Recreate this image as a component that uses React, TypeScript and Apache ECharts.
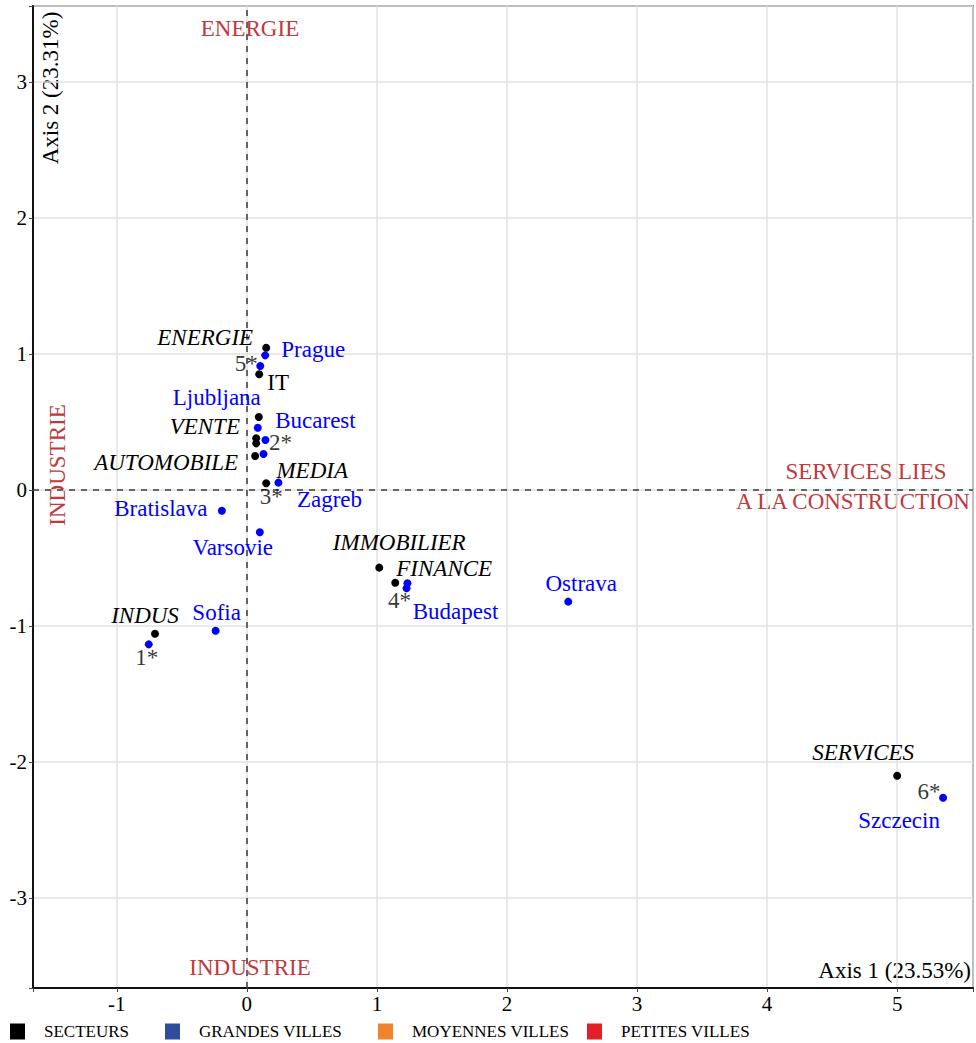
import React, { useEffect, useRef } from "react";
import * as echarts from "echarts";

const FONT = "Liberation Serif";

// SECTEURS (black points)
const sectorNames = ["ENERGIE", "IT", "VENTE", "", "", "AUTOMOBILE", "MEDIA", "IMMOBILIER", "FINANCE", "INDUS", "SERVICES"];
const sectorX = [0.149, 0.095, 0.092, 0.072, 0.072, 0.064, 0.149, 1.018, 1.141, -0.706, 5.0];
const sectorY = [1.046, 0.851, 0.537, 0.38, 0.343, 0.25, 0.049, -0.571, -0.682, -1.057, -2.101];

// GRANDES VILLES (blue points)
const cityNames = ["Prague", "", "Ljubljana", "", "Bucarest", "Zagreb", "Bratislava", "Varsovie", "Sofia", "", "Budapest", "", "Ostrava", "Szczecin"];
const cityX = [0.141, 0.103, 0.084, 0.143, 0.128, 0.243, -0.192, 0.1, -0.24, -0.754, 1.235, 1.228, 2.471, 5.353];
const cityY = [0.99, 0.912, 0.458, 0.368, 0.265, 0.054, -0.152, -0.311, -1.035, -1.135, -0.686, -0.723, -0.821, -2.263];

// numbered groups
const groupNames = ["1*", "2*", "3*", "4*", "5*", "6*"];
const groupX = [-0.754, 0.143, 0.149, 1.228, 0.103, 5.353];
const groupY = [-1.135, 0.368, 0.049, -0.723, 0.912, -2.263];

// axis ticks
const xTicks = [-1, 0, 1, 2, 3, 4, 5];
const yTicks = [-3, -2, -1, 0, 1, 2, 3];

const legendNames = ["SECTEURS", "GRANDES VILLES", "MOYENNES VILLES", "PETITES VILLES"];

// label placement (style, not data)
const sectorLabelOffsets = [[-61, -10], [19, 8], [-54, 10], [0, 0], [0, 0], [-89, 7], [46, -13], [20, -25], [49, -14], [-10, -18], [-34, -23]];
const sectorLabelUpright = [false, true, false, false, false, false, false, false, false, false, false];
const cityLabelOffsets = [[48, -6], [0, 0], [-41, -30], [0, 0], [52, -33], [51, 17], [-61, -2], [-27, 15], [1, -18], [0, 0], [48, 28], [0, 0], [13, -18], [-44, 23]];
const groupLabelOffsets = [[-2, 13], [15, 3], [5, 13], [-7, 12], [-14, -2], [-14, -6]];

const RED = "#c1393c";
const LABEL_SIZE = 23;

export default function App() {
  const ref = useRef<HTMLDivElement>(null);
  useEffect(() => {
    if (!ref.current) return;
    const chart = echarts.init(ref.current, undefined, { renderer: "svg" });

    const isTick = (v: number, ticks: number[]) => ticks.some((t) => Math.abs(t - v) < 1e-6);

    const sectorData = sectorNames.map((n, i) => ({
      value: [sectorX[i], sectorY[i]],
      name: n,
      label: {
        show: n !== "",
        formatter: n,
        position: "inside",
        offset: sectorLabelOffsets[i],
        fontStyle: sectorLabelUpright[i] ? "normal" : "italic",
        color: "#000",
        fontSize: LABEL_SIZE,
        fontFamily: FONT,
      },
    }));
    const cityData = cityNames.map((n, i) => ({
      value: [cityX[i], cityY[i]],
      name: n,
      label: {
        show: n !== "",
        formatter: n,
        position: "inside",
        offset: cityLabelOffsets[i],
        color: "#0000ff",
        fontSize: LABEL_SIZE,
        fontFamily: FONT,
      },
    }));
    const groupData = groupNames.map((n, i) => ({
      value: [groupX[i], groupY[i]],
      name: n,
      label: {
        show: true,
        formatter: n,
        position: "inside",
        offset: groupLabelOffsets[i],
        color: "#000",
        fontSize: LABEL_SIZE,
        fontFamily: FONT,
      },
    }));

    const legendColors = ["#000000", "#2f4d9c", "#f0842c", "#e2202a"];
    const legendLefts = [10, 165, 378, 587];

    const redText = (text: string, x: number, y: number, rot = 0) => ({
      type: "text",
      x,
      y,
      rotation: rot,
      silent: true,
      style: {
        text,
        fill: RED,
        fontSize: LABEL_SIZE,
        fontFamily: FONT,
        align: "center",
        verticalAlign: "middle",
      },
    });

    const axisCommon = {
      type: "value",
      splitNumber: 7,
      axisLine: { show: true, onZero: false, lineStyle: { color: "#111", width: 2 } },
      axisTick: { show: true, length: 4, lineStyle: { color: "#444" } },
      splitLine: { show: true, lineStyle: { color: "#e2e2e2", width: 1.5 } },
    };

    chart.setOption({
      animation: false,
      backgroundColor: "#ffffff",
      textStyle: { fontFamily: FONT },
      grid: {
        left: 33,
        right: 1,
        top: 6,
        bottom: 55,
        show: true,
        borderColor: "#222",
        borderWidth: 1.5,
        containLabel: false,
      },
      xAxis: {
        ...axisCommon,
        min: -1.644,
        max: 5.583,
        axisLabel: {
          color: "#000",
          fontSize: 21,
          fontFamily: FONT,
          margin: 5,
          formatter: (v: number) => (isTick(v, xTicks) ? String(Math.round(v)) : ""),
        },
      },
      yAxis: {
        ...axisCommon,
        min: -3.662,
        max: 3.559,
        axisLabel: {
          color: "#000",
          fontSize: 21,
          fontFamily: FONT,
          margin: 6,
          formatter: (v: number) => (isTick(v, yTicks) ? String(Math.round(v)) : ""),
        },
      },
      legend: legendNames.map((n, i) => ({
        data: [{ name: n, itemStyle: { color: legendColors[i], opacity: 1 } }],
        left: legendLefts[i],
        top: 1023,
        padding: 0,
        icon: "rect",
        itemWidth: 15,
        itemHeight: 16,
        selectedMode: false,
        textStyle: { color: "#000", fontSize: 17, fontFamily: FONT, padding: [0, 0, 0, 14] },
      })),
      series: [
        {
          name: "SECTEURS",
          type: "scatter",
          symbolSize: 8,
          itemStyle: { color: "#000000", opacity: 1 },
          data: sectorData,
          z: 3,
          markLine: {
            silent: true,
            symbol: ["none", "none"],
            label: { show: false },
            lineStyle: { type: [6, 6], color: "#3a3a3a", width: 1.5 },
            data: [{ xAxis: 0 }, { yAxis: 0 }],
            z: 1,
          },
        },
        {
          name: "GRANDES VILLES",
          type: "scatter",
          symbolSize: 8,
          itemStyle: { color: "#0000ff", opacity: 1 },
          data: cityData,
          z: 4,
        },
        { name: "MOYENNES VILLES", type: "scatter", symbolSize: 8, itemStyle: { color: "#f0842c", opacity: 1 }, data: [] },
        { name: "PETITES VILLES", type: "scatter", symbolSize: 8, itemStyle: { color: "#e2202a", opacity: 1 }, data: [] },
        {
          name: "groupes",
          type: "scatter",
          symbolSize: 0,
          itemStyle: { color: "#000000" },
          data: groupData,
          z: 5,
        },
      ],
      graphic: [
        {
          type: "text",
          x: 50,
          y: 88,
          rotation: Math.PI / 2,
          silent: true,
          style: {
            text: "Axis 2 (23.31%)",
            fill: "#000",
            fontSize: LABEL_SIZE,
            fontFamily: FONT,
            align: "center",
            verticalAlign: "middle",
          },
        },
        {
          type: "text",
          x: 971,
          y: 970,
          silent: true,
          style: {
            text: "Axis 1 (23.53%)",
            fill: "#000",
            fontSize: LABEL_SIZE,
            fontFamily: FONT,
            align: "right",
            verticalAlign: "middle",
          },
        },
        redText("ENERGIE", 250, 28),
        redText("INDUSTRIE", 250, 967),
        redText("INDUSTRIE", 57, 465, Math.PI / 2),
        redText("SERVICES LIES", 866, 471),
        redText("A LA CONSTRUCTION", 853, 501),
      ],
    });
    return () => chart.dispose();
  }, []);
  return (
    <div
      ref={ref}
      style={{ position: "absolute", left: 0, top: 0, width: 976, height: 1043 }}
    />
  );
}
